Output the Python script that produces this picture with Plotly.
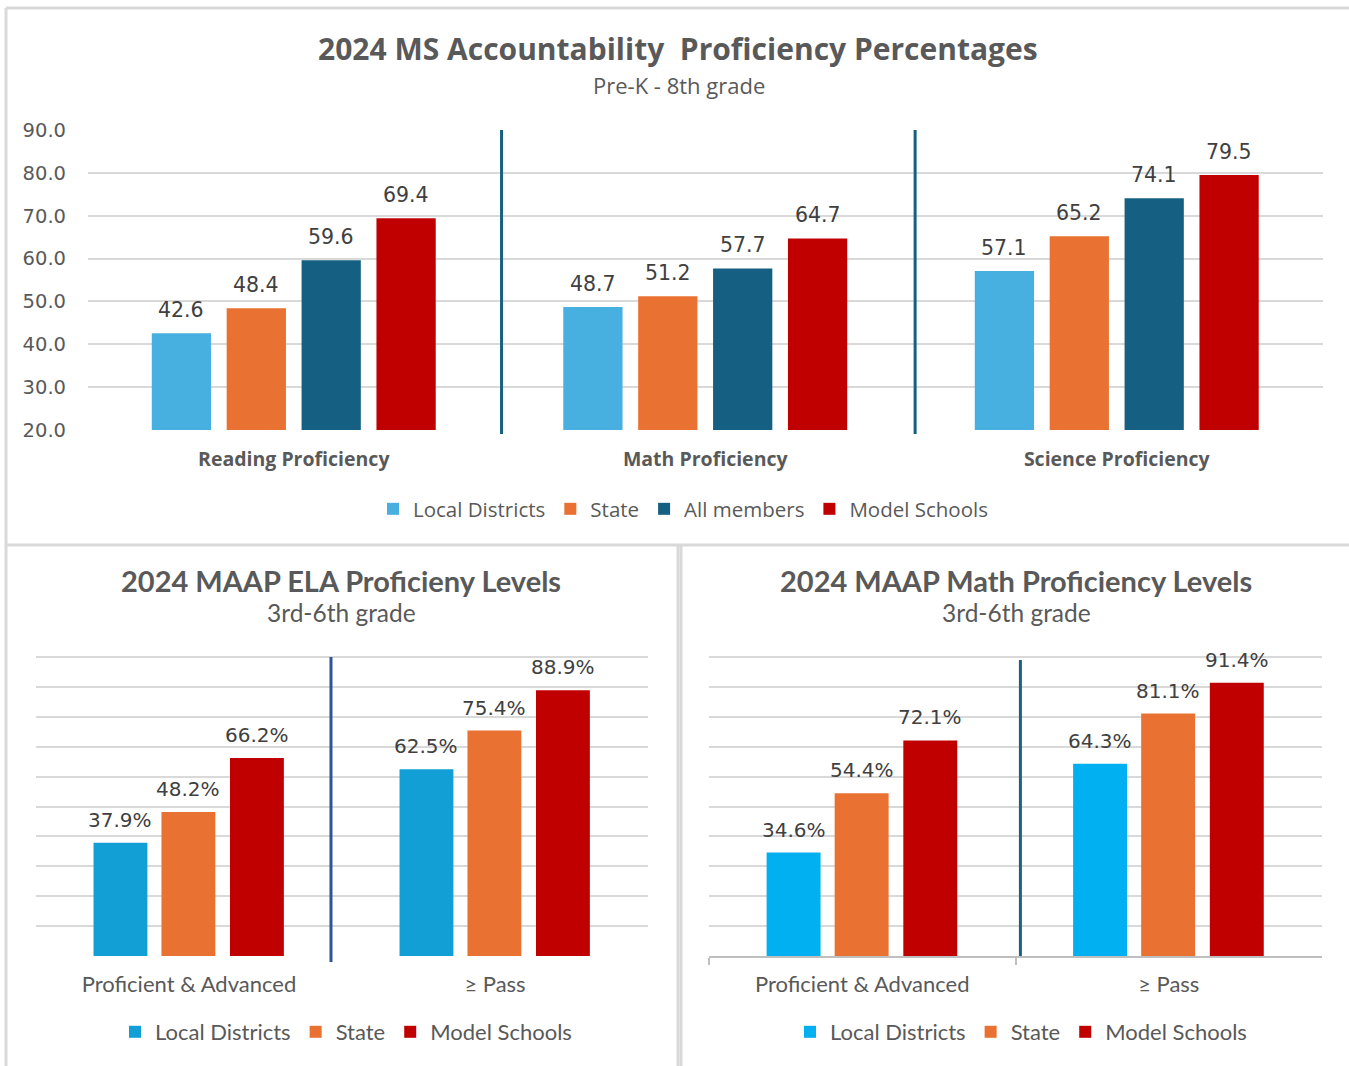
import plotly.graph_objects as go

# ---------------- data ----------------
top_categories = ["Reading Proficiency", "Math Proficiency", "Science Proficiency"]
top_series = ["Local Districts", "State", "All members", "Model Schools"]
top_local = [42.6, 48.7, 57.1]
top_state = [48.4, 51.2, 65.2]
top_all = [59.6, 57.7, 74.1]
top_model = [69.4, 64.7, 79.5]
top_ticks = [20, 30, 40, 50, 60, 70, 80, 90]

bottom_categories = ["Proficient & Advanced", "≥ Pass"]
bottom_series = ["Local Districts", "State", "Model Schools"]
ela_local = [37.9, 62.5]
ela_state = [48.2, 75.4]
ela_model = [66.2, 88.9]
math_local = [34.6, 64.3]
math_state = [54.4, 81.1]
math_model = [72.1, 91.4]
bottom_grid = [0, 10, 20, 30, 40, 50, 60, 70, 80, 90, 100]

# ---------------- styles ----------------
W, H = 1349, 1066
def px_x(p): return p / W
def px_y(p): return 1 - p / H

top_colors = ["#47B0E0", "#E97132", "#156082", "#C00000"]
ela_colors = ["#129FD6", "#E97132", "#C00000"]
math_colors = ["#00B0F0", "#E97132", "#C00000"]
GRID = "#D9D9D9"
TXT = "#595959"
LBL = "#404040"
FT = "Open Sans"
FB = "Lato"
FN = "DejaVu Sans"

fig = go.Figure()

# top chart bars
top_vals = [top_local, top_state, top_all, top_model]
top_w = 0.144
top_offsets = [-0.345, -0.163, 0.019, 0.201]
for name, vals, col, off in zip(top_series, top_vals, top_colors, top_offsets):
    fig.add_trace(go.Bar(
        x=top_categories, y=vals, name=name, marker=dict(color=col, line=dict(width=0)),
        width=top_w, offset=off, xaxis="x", yaxis="y", legend="legend",
        showlegend=True, hoverinfo="x+y+name"))
    for i, v in enumerate(vals):
        fig.add_annotation(x=i + off + top_w / 2, y=v, xref="x", yref="y",
                           text=f"{v:.1f}", showarrow=False, yanchor="bottom", yshift=9,
                           xanchor="center", font=dict(family=FN, size=20.5, color=LBL))

# bottom charts
b_w = 0.176
b_offsets = [-0.312, -0.090, 0.134]
for vals_list, colors, xa, ya, lg in [
    ([ela_local, ela_state, ela_model], ela_colors, "x2", "y2", "legend2"),
    ([math_local, math_state, math_model], math_colors, "x3", "y3", "legend3"),
]:
    for name, vals, col, off in zip(bottom_series, vals_list, colors, b_offsets):
        fig.add_trace(go.Bar(
            x=bottom_categories, y=vals, name=name, marker=dict(color=col, line=dict(width=0)),
            width=b_w, offset=off, xaxis=xa, yaxis=ya, legend=lg, showlegend=True))
        for i, v in enumerate(vals):
            fig.add_annotation(x=i + off + b_w / 2, y=v, xref=xa, yref=ya,
                               text=f"{v:.1f}%", showarrow=False, yanchor="bottom", yshift=9,
                               xanchor="center", font=dict(family=FN, size=20, color=LBL))

# bottom y range extends a bit past 100 so the 100 gridline is drawn
b_top_px = 956 - 299 * 1.05

fig.update_layout(
    width=W, height=H, margin=dict(l=0, r=0, t=0, b=0, autoexpand=False),
    paper_bgcolor="white", plot_bgcolor="white",
    barmode="group",
    xaxis=dict(domain=[px_x(88), px_x(1322.5)], range=[-0.5, 2.5], anchor="y",
               showgrid=False, showline=False, zeroline=False, ticks="",
               tickfont=dict(family=FT, size=19.5, color=TXT, weight="bold"),
               ticklabelstandoff=15, automargin=False),
    yaxis=dict(domain=[px_y(430), px_y(130)], range=[20, 90], anchor="x",
               tickvals=top_ticks, ticktext=[f"{t:.1f}" for t in top_ticks],
               showgrid=True, gridcolor=GRID, gridwidth=2, zeroline=False, showline=False,
               tickfont=dict(family=FN, size=19.5, color=TXT), ticklabelstandoff=21,
               automargin=False),
    xaxis2=dict(domain=[px_x(36), px_x(648)], range=[-0.5, 1.5], anchor="y2",
                showgrid=False, showline=False, zeroline=False, ticks="",
                tickfont=dict(family=FB, size=22, color=TXT), ticklabelstandoff=13,
                automargin=False),
    yaxis2=dict(domain=[px_y(956), px_y(b_top_px)], range=[0, 105], anchor="x2",
                tickvals=bottom_grid,
                showgrid=True, gridcolor=GRID, gridwidth=2, zeroline=False, showline=False,
                showticklabels=False, automargin=False),
    xaxis3=dict(domain=[px_x(709), px_x(1322)], range=[-0.5, 1.5], anchor="y3",
                showgrid=False, showline=True, linecolor="#BFBFBF", linewidth=2, zeroline=False,
                ticks="outside", tickson="boundaries", ticklen=7, tickcolor="#BFBFBF", tickwidth=2,
                tickfont=dict(family=FB, size=22, color=TXT), ticklabelstandoff=8,
                automargin=False),
    yaxis3=dict(domain=[px_y(956), px_y(b_top_px)], range=[0, 105], anchor="x3",
                tickvals=bottom_grid,
                showgrid=True, gridcolor=GRID, gridwidth=2, zeroline=False, showline=False,
                showticklabels=False, automargin=False),
    legend=dict(orientation="h", x=px_x(683), xanchor="center", y=px_y(509), yanchor="middle",
                font=dict(family=FT, size=20.5, color=TXT), traceorder="normal",
                itemwidth=30, bgcolor="rgba(0,0,0,0)"),
    legend2=dict(orientation="h", x=px_x(346), xanchor="center", y=px_y(1032), yanchor="middle",
                 font=dict(family=FB, size=22, color=TXT), traceorder="normal",
                 itemwidth=30, bgcolor="rgba(0,0,0,0)"),
    legend3=dict(orientation="h", x=px_x(1021), xanchor="center", y=px_y(1032), yanchor="middle",
                 font=dict(family=FB, size=22, color=TXT), traceorder="normal",
                 itemwidth=30, bgcolor="rgba(0,0,0,0)"),
)

# titles
def title(x, y, text, family, size):
    fig.add_annotation(x=px_x(x), y=px_y(y), xref="paper", yref="paper", showarrow=False,
                       text=text, xanchor="center", yanchor="middle",
                       font=dict(family=family, size=size, color=TXT))

title(678, 48, "<b>2024 MS Accountability  Proficiency Percentages</b>", FT, 30)
title(679, 85, "Pre-K - 8th grade", FT, 22)
title(341, 580, "<b>2024 MAAP ELA Proficieny Levels</b>", FB, 29)
title(341, 612, "3rd-6th grade", FB, 24.5)
title(1016, 580, "<b>2024 MAAP Math Proficiency Levels</b>", FB, 29)
title(1016, 612, "3rd-6th grade", FB, 24.5)

# separators between categories
for xv in [0.505, 1.51]:
    fig.add_shape(type="line", xref="x", yref="paper", x0=xv, x1=xv, y0=px_y(434), y1=px_y(130),
                  line=dict(color="#156082", width=3))
fig.add_shape(type="line", xref="x2", yref="paper", x0=0.464, x1=0.464, y0=px_y(962), y1=px_y(657),
              line=dict(color="#2F5597", width=3))
fig.add_shape(type="line", xref="x3", yref="paper", x0=0.516, x1=0.516, y0=px_y(956), y1=px_y(660),
              line=dict(color="#1F5F82", width=3))

# panel borders
border = dict(color=GRID, width=3)
fig.add_shape(type="line", xref="paper", yref="paper", x0=px_x(6), x1=1, y0=px_y(8), y1=px_y(8), line=border)
fig.add_shape(type="line", xref="paper", yref="paper", x0=px_x(6), x1=px_x(6), y0=px_y(8), y1=0, line=border)
fig.add_shape(type="line", xref="paper", yref="paper", x0=px_x(6), x1=1, y0=px_y(545), y1=px_y(545), line=border)
fig.add_shape(type="line", xref="paper", yref="paper", x0=px_x(678), x1=px_x(678), y0=px_y(545), y1=0,
              line=border)
fig.add_shape(type="line", xref="paper", yref="paper", x0=px_x(681), x1=px_x(681), y0=px_y(545), y1=0,
              line=border)

fig.write_html("out.html", config={"displayModeBar": False},
               post_script="document.body.style.margin='0';document.body.style.overflow='hidden';")
